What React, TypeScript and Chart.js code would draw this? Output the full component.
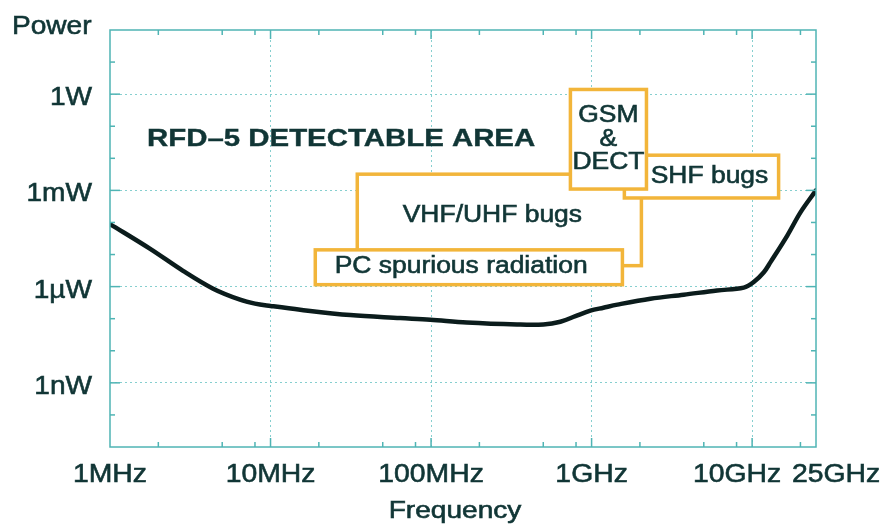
import { useEffect, useRef } from 'react';
import { Chart, registerables } from 'chart.js';

Chart.register(...registerables);

// ---- data (frequency in MHz, power in W) ----
const FREQ_MHZ = [1, 1.78, 2.85, 4.39, 6.46, 8.0, 10, 15.3, 31.4, 64.3, 98.9, 167, 343, 501, 639, 793, 983, 1185, 1449, 2326, 3750, 6055, 8870, 10240, 11830, 13020, 16560, 20050, 25000];
const POWER_W = [8.9e-5, 1.5e-5, 3.1e-6, 8.6e-7, 3.9e-7, 2.95e-7, 2.5e-7, 1.9e-7, 1.3e-7, 1.05e-7, 9.3e-8, 7.6e-8, 6.6e-8, 6.6e-8, 8.0e-8, 1.2e-7, 1.78e-7, 2.2e-7, 2.75e-7, 4.2e-7, 5.6e-7, 7.6e-7, 9.3e-7, 1.39e-6, 2.8e-6, 5.8e-6, 3.9e-5, 2.1e-4, 1.0e-3];

const X_TICK_VALUES = [1, 10, 100, 1000, 10000, 25000];
const X_TICK_LABELS = ['1MHz', '10MHz', '100MHz', '1GHz', '10GHz', '25GHz'];
const X_GRID_VALUES = [10, 100, 1000, 10000];
const X_MINOR = [2, 5, 8, 20, 50, 80, 200, 500, 800, 2000, 5000, 8000, 20000];

const Y_TICK_VALUES = [1e-9, 1e-6, 1e-3, 1];
const Y_TICK_LABELS = ['1nW', '1\u00b5W', '1mW', '1W'];
const Y_MINOR = [1e-10, 1e-8, 1e-7, 1e-5, 1e-4, 1e-2, 1e-1, 10];

const X_MIN = 1;
const X_MAX = 25000;
const Y_MIN = 1e-11;
const Y_MAX = 100;

// annotation regions (drawn in order)
const BOX_NAMES = ['VHF/UHF bugs', 'PC spurious radiation', 'SHF bugs', 'GSM\n&\nDECT'];
const BOX_F_LO = [34.7, 19.0, 1600, 738];
const BOX_F_HI = [2043, 1556, 14620, 2197];
const BOX_P_LO = [4.5e-6, 1.15e-6, 5.8e-4, 1.1e-3];
const BOX_P_HI = [3.2e-3, 1.4e-5, 1.25e-2, 1.4];
const BOX_LABEL_F = [241, 154, 5425, 1273];
const BOX_LABEL_P = [1.6e-4, 4.3e-6, 2.7e-3, 0.039];

const TITLE_TEXT = 'RFD\u20135 DETECTABLE AREA';
const TITLE_F = 1.7;
const TITLE_P = 0.038;

const X_TITLE = 'Frequency';
const Y_TITLE = 'Power';

// ---- styles ----
const FONT = "'Liberation Sans', Arial, sans-serif";
const TEXT = '#113636';
const FRAME = '#4fb4b4';
const GRID = '#86cfcf';
const BOX = '#f2b53a';
const CURVE = '#0b1c1c';
const X_LABEL_NUDGE = [0, 0, 0, 0, -15, 20];

function drawText(
  ctx: CanvasRenderingContext2D,
  s: string,
  x: number,
  y: number,
  font: string,
  align: CanvasTextAlign,
  baseline: CanvasTextBaseline,
  sx: number,
  stroke = 0.6,
) {
  ctx.save();
  ctx.translate(x, y);
  ctx.scale(sx, 1);
  ctx.font = font;
  ctx.textAlign = align;
  ctx.textBaseline = baseline;
  ctx.fillStyle = TEXT;
  ctx.fillText(s, 0, 0);
  if (stroke > 0) {
    ctx.strokeStyle = TEXT;
    ctx.lineWidth = stroke;
    ctx.strokeText(s, 0, 0);
  }
  ctx.restore();
}

const overlay = {
  id: 'overlay',
  afterDatasetsDraw(chart: any) {
    const { ctx, chartArea: a } = chart;
    const xs = chart.scales.x;
    const ys = chart.scales.y;
    ctx.save();

    // annotation boxes
    ctx.lineWidth = 3.5;
    ctx.strokeStyle = BOX;
    for (let i = 0; i < BOX_NAMES.length; i++) {
      const x0 = xs.getPixelForValue(BOX_F_LO[i]);
      const x1 = xs.getPixelForValue(BOX_F_HI[i]);
      const y0 = ys.getPixelForValue(BOX_P_HI[i]);
      const y1 = ys.getPixelForValue(BOX_P_LO[i]);
      ctx.fillStyle = '#ffffff';
      ctx.fillRect(x0, y0, x1 - x0, y1 - y0);
      ctx.strokeRect(x0, y0, x1 - x0, y1 - y0);
    }
    for (let i = 0; i < BOX_NAMES.length; i++) {
      const lines = BOX_NAMES[i].split('\n');
      const cx = xs.getPixelForValue(BOX_LABEL_F[i]);
      const cy = ys.getPixelForValue(BOX_LABEL_P[i]);
      const lh = 23.5;
      lines.forEach((ln, k) => {
        drawText(ctx, ln, cx, cy + (k - (lines.length - 1) / 2) * lh, `23px ${FONT}`, 'center', 'middle', 1.15);
      });
    }

    // title in plot
    drawText(
      ctx,
      TITLE_TEXT,
      xs.getPixelForValue(TITLE_F),
      ys.getPixelForValue(TITLE_P),
      `bold 24.5px ${FONT}`,
      'left',
      'middle',
      1.2,
      0.4,
    );

    // frame
    ctx.strokeStyle = FRAME;
    ctx.lineWidth = 1.5;
    ctx.strokeRect(a.left, a.top, a.right - a.left, a.bottom - a.top);

    // inward tick marks
    const tick = (x0: number, y0: number, x1: number, y1: number) => {
      ctx.beginPath();
      ctx.moveTo(x0, y0);
      ctx.lineTo(x1, y1);
      ctx.stroke();
    };
    X_GRID_VALUES.forEach((v) => {
      const px = xs.getPixelForValue(v);
      tick(px, a.bottom, px, a.bottom - 9);
      tick(px, a.top, px, a.top + 9);
    });
    X_MINOR.forEach((v) => {
      const px = xs.getPixelForValue(v);
      tick(px, a.bottom, px, a.bottom - 5);
      tick(px, a.top, px, a.top + 5);
    });
    Y_TICK_VALUES.forEach((v) => {
      const py = ys.getPixelForValue(v);
      tick(a.left, py, a.left + 10, py);
      tick(a.right, py, a.right - 10, py);
    });
    Y_MINOR.forEach((v) => {
      const py = ys.getPixelForValue(v);
      tick(a.left, py, a.left + 5, py);
      tick(a.right, py, a.right - 5, py);
    });

    // x tick labels
    X_TICK_VALUES.forEach((v, i) => {
      const px = xs.getPixelForValue(v) + X_LABEL_NUDGE[i];
      drawText(ctx, X_TICK_LABELS[i], px, a.bottom + 35, `26px ${FONT}`, 'center', 'alphabetic', 1.09);
    });
    // y tick labels
    Y_TICK_VALUES.forEach((v, i) => {
      const py = ys.getPixelForValue(v);
      drawText(ctx, Y_TICK_LABELS[i], a.left - 18, py + 11, `26px ${FONT}`, 'right', 'alphabetic', 1.08);
    });

    // axis titles
    drawText(ctx, X_TITLE, (a.left + a.right) / 2 - 8, a.bottom + 71, `24px ${FONT}`, 'center', 'alphabetic', 1.17);
    drawText(ctx, Y_TITLE, a.left - 98, a.top + 4, `26px ${FONT}`, 'left', 'alphabetic', 1.08);

    ctx.restore();
  },
};

export default function App() {
  const ref = useRef<HTMLCanvasElement | null>(null);

  useEffect(() => {
    if (!ref.current) return;
    Chart.defaults.font.family = FONT;
    const chart = new Chart(ref.current, {
      type: 'line',
      data: {
        datasets: [
          {
            data: FREQ_MHZ.map((f, i) => ({ x: f, y: POWER_W[i] })),
            borderColor: CURVE,
            borderWidth: 4.5,
            pointRadius: 0,
            fill: false,
            tension: 0.35,
            borderJoinStyle: 'round',
            borderCapStyle: 'round',
          },
        ],
      },
      options: {
        animation: false,
        responsive: true,
        maintainAspectRatio: false,
        layout: { padding: { left: 0, right: 71, top: 30, bottom: 0 } },
        plugins: { legend: { display: false }, tooltip: { enabled: false } },
        scales: {
          x: {
            type: 'logarithmic',
            min: X_MIN,
            max: X_MAX,
            afterBuildTicks: (s: any) => {
              s.ticks = X_GRID_VALUES.map((v) => ({ value: v }));
            },
            afterFit: (s: any) => {
              s.height = 77;
            },
            ticks: { display: false },
            grid: { color: GRID, lineWidth: 1, drawTicks: false },
            border: { display: false, dash: [2, 3] },
          },
          y: {
            type: 'logarithmic',
            min: Y_MIN,
            max: Y_MAX,
            afterBuildTicks: (s: any) => {
              s.ticks = Y_TICK_VALUES.map((v) => ({ value: v }));
            },
            afterFit: (s: any) => {
              s.width = 110;
            },
            ticks: { display: false },
            grid: { color: GRID, lineWidth: 1, drawTicks: false },
            border: { display: false, dash: [2, 3] },
          },
        },
      } as any,
      plugins: [overlay],
    });
    return () => chart.destroy();
  }, []);

  return (
    <div style={{ position: 'absolute', left: 0, top: 0, width: 887, height: 524, background: '#fff' }}>
      <canvas ref={ref} />
    </div>
  );
}
